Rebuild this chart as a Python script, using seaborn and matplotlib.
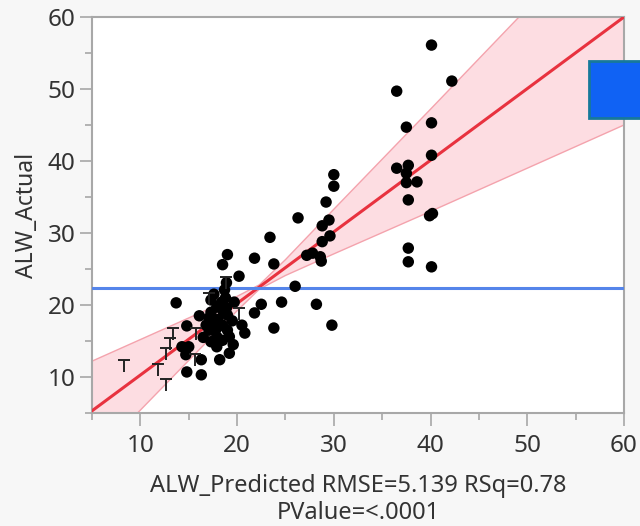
import numpy as np
import pandas as pd
import matplotlib
matplotlib.use("Agg")
import matplotlib.pyplot as plt
from matplotlib.path import Path
from matplotlib.patches import Rectangle
import seaborn as sns

# actual vs predicted points
pred = [40.1, 42.2, 36.5, 37.5, 40.1, 40.1, 36.5, 37.7, 37.5, 38.6, 37.5, 37.7, 39.9, 40.2, 37.7, 37.7, 40.1,
        30.0, 30.0, 29.2, 26.3, 29.5, 28.8, 29.6, 28.8, 23.4, 27.2, 27.8, 28.6, 28.7, 21.8, 23.8, 26.0,
        22.5, 24.6, 28.2, 21.8, 23.8, 29.8,
        19.0, 18.5, 20.2, 18.9, 18.7, 13.7, 17.3, 18.4, 19.7, 16.1, 17.3, 19.0, 17.3, 18.5, 14.8, 17.1,
        20.5, 20.8, 19.2, 17.9, 14.3, 15.0, 17.3, 19.2, 18.2, 16.3, 14.7, 14.8, 16.3, 17.9, 18.5, 17.9,
        18.9, 17.9, 19.0, 16.8, 17.1, 18.0, 18.6, 19.5, 17.6, 18.8, 16.5, 19.6]
actual = [56.1, 51.1, 49.7, 44.7, 45.3, 40.8, 39.0, 39.4, 38.3, 37.1, 37.0, 34.6, 32.4, 32.7, 27.9, 26.0, 25.3,
          38.1, 36.5, 34.3, 32.1, 31.8, 31.0, 29.6, 28.8, 29.4, 26.9, 27.2, 26.7, 26.1, 26.5, 25.7, 22.6,
          20.1, 20.4, 20.1, 18.9, 16.8, 17.2,
          27.0, 25.6, 24.0, 23.1, 22.1, 20.3, 20.7, 20.4, 20.4, 18.5, 19.0, 18.6, 17.6, 17.2, 17.1, 16.5,
          17.2, 16.1, 15.6, 15.6, 14.2, 14.2, 14.9, 13.3, 12.4, 12.4, 13.1, 10.7, 10.3, 14.2, 15.1, 19.7,
          19.6, 16.8, 16.5, 17.2, 18.2, 18.0, 19.0, 17.8, 21.5, 21.0, 15.5, 14.5]

# "T" shaped marks (overlapping rows)
t_pred = [8.3, 11.8, 12.7, 12.7, 13.1, 13.4, 15.8, 15.6, 17.1, 18.9, 20.2]
t_actual = [11.5, 11.0, 8.9, 13.2, 14.6, 16.0, 16.0, 12.3, 20.9, 23.0, 18.8]

# fit line, mean line and confidence curves
fit_x = [5, 60]
fit_y = [5.3, 60.0]
mean_actual = 22.3
band_x = [5, 10, 15, 20, 22.3, 25, 30, 40, 50, 60]
band_hi = [12.2, 15.2, 18.2, 21.2, 22.8, 26.3, 33.3, 47.2, 61.2, 75.0]
band_lo = [-1.6, 5.4, 12.3, 19.2, 22.2, 24.1, 27.1, 33.0, 39.0, 45.0]

df = pd.DataFrame({'pred': pred, 'actual': actual})

sns.set_style("white")
plt.rcParams['font.family'] = ['Noto Sans', 'DejaVu Sans']

fig = plt.figure(figsize=(6.4, 5.26), dpi=100, facecolor='#f7f7f7')
ax = fig.add_axes([92/640, 1-413/526, (624-92)/640, (413-17)/526])
ax.set_facecolor('white')

ax.fill_between(band_x, band_lo, band_hi, color='#fddde2', lw=0, zorder=1)
ax.plot(band_x, band_hi, color='#f4a3ad', lw=1, zorder=2)
ax.plot(band_x, band_lo, color='#f4a3ad', lw=1, zorder=2)
ax.plot(fit_x, fit_y, color='#e8323f', lw=2.2, zorder=3)
ax.axhline(mean_actual, color='#5585ea', lw=2.2, zorder=3)

sns.scatterplot(data=df, x='pred', y='actual', color='black', s=68, edgecolor='none', ax=ax, zorder=5)

t_marker = Path([(-1, 1), (1, 1), (0, 1), (0, -1)],
                [Path.MOVETO, Path.LINETO, Path.MOVETO, Path.LINETO])
ax.scatter(t_pred, t_actual, marker=t_marker, s=85, c='#222222', linewidths=1.4, zorder=6)

ax.set_xlim(5, 60)
ax.set_ylim(5, 60)
ax.set_xticks([10, 20, 30, 40, 50, 60])
ax.set_yticks([10, 20, 30, 40, 50, 60])
ax.set_xticks([5, 15, 25, 35, 45, 55], minor=True)
ax.set_yticks([5, 15, 25, 35, 45, 55], minor=True)
ax.tick_params(which='major', direction='out', length=9, width=1.1, color='#a0a0a0',
               labelsize=17.5, labelcolor='#333333', pad=3)
ax.tick_params(axis='x', which='major', pad=6)
ax.tick_params(which='minor', direction='out', length=5, width=1.1, color='#a0a0a0')
ax.tick_params(bottom=True, left=True, which='both')
for sp in ax.spines.values():
    sp.set_color('#a8a8a8')
    sp.set_linewidth(1.5)

ax.set_xlabel('ALW_Predicted RMSE=5.139 RSq=0.78\nPValue=<.0001', fontsize=17, color='#333333',
              linespacing=1.12, labelpad=12)
ax.set_ylabel('ALW_Actual', fontsize=16.5, color='#333333', labelpad=6)

fig.patches.append(Rectangle((589/640, 1-118/526), 0.09, 57/526, transform=fig.transFigure,
                             facecolor='#1062f4', edgecolor='#17799a', lw=2, zorder=10))

fig.savefig('out.png', dpi=100, facecolor=fig.get_facecolor())
